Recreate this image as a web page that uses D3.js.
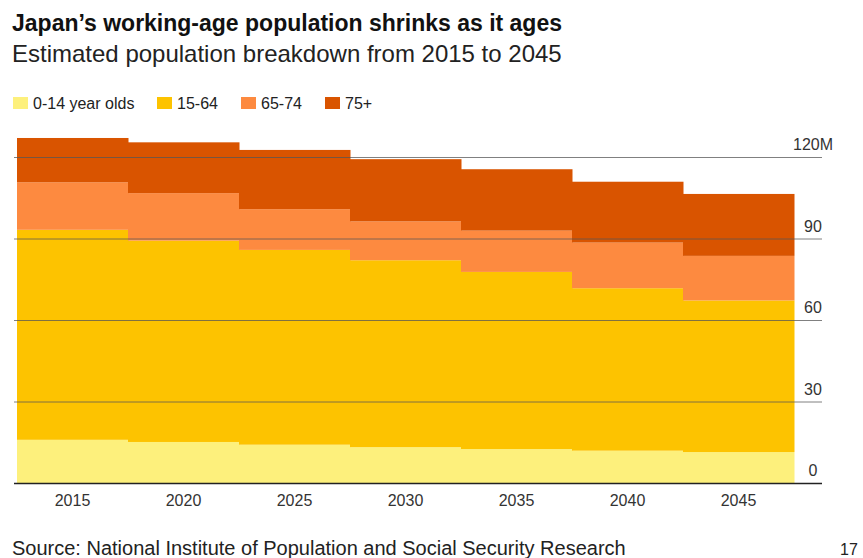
<!DOCTYPE html>
<html>
<head>
<meta charset="utf-8">
<script src="https://cdn.jsdelivr.net/npm/d3@7"></script>
<style>
  body { margin: 0; background: #fff; font-family: "Liberation Sans", Arial, sans-serif; }
  .chart-title { font-size: 23px; font-weight: bold; fill: #111; }
  .chart-sub { font-size: 24px; fill: #222; }
  .legend-text { font-size: 16px; fill: #222; }
  .tick-label { font-size: 16px; fill: #333; }
  .source { font-size: 20px; fill: #222; }
</style>
</head>
<body>
<div id="chart"></div>
<script>
const years = [2015, 2020, 2025, 2030, 2035, 2040, 2045];
const groups = ["0-14 year olds", "15-64", "65-74", "75+"];
// millions of people
const age0to14 = [15.9, 15.1, 14.1, 13.2, 12.5, 11.9, 11.4];
const age15to64 = [77.3, 74.1, 71.7, 68.8, 65.2, 59.8, 55.8];
const age65to74 = [17.5, 17.5, 15.0, 14.3, 15.2, 16.8, 16.4];
const age75plus = [16.3, 18.7, 21.8, 22.9, 22.6, 22.4, 22.8];
const yTicks = [0, 30, 60, 90, 120];
const colors = ["#fdf07c", "#fdc300", "#fd8a40", "#d95400"];

const W = 863, H = 558;
const svg = d3.select("#chart").append("svg")
    .attr("width", W)
    .attr("height", H);

const rows = years.map((yr, i) => ({
    year: yr,
    "0-14 year olds": age0to14[i],
    "15-64": age15to64[i],
    "65-74": age65to74[i],
    "75+": age75plus[i]
}));

const stacked = d3.stack().keys(groups)(rows);

const x = d3.scaleBand()
    .domain(years)
    .range([17, 794])
    .padding(0);

const y = d3.scaleLinear()
    .domain([0, 120])
    .range([483, 157]);

const color = d3.scaleOrdinal().domain(groups).range(colors);

// stepped stacked areas, one block per period
svg.append("g")
    .selectAll("g")
    .data(stacked)
    .join("g")
    .attr("fill", d => color(d.key))
    .selectAll("rect")
    .data(d => d)
    .join("rect")
    .attr("x", d => x(d.data.year))
    .attr("width", x.bandwidth() + 0.5)
    .attr("y", d => y(d[1]))
    .attr("height", d => y(d[0]) - y(d[1]));

// gridlines drawn over the areas
const yAxis = svg.append("g")
    .attr("transform", "translate(14,0)")
    .call(d3.axisRight(y).tickValues(yTicks).tickSize(808).tickFormat(d => d === 120 ? "120M" : d));
yAxis.select(".domain").remove();
yAxis.selectAll(".tick line")
    .attr("stroke", d => d === 0 ? "#222" : "#555")
    .attr("stroke-opacity", d => d === 0 ? 1 : 0.75)
    .attr("stroke-width", d => d === 0 ? 1.6 : 1);
yAxis.selectAll(".tick text")
    .attr("class", "tick-label")
    .attr("x", 799)
    .attr("dy", "-0.45em")
    .attr("text-anchor", "middle")
    .style("font-family", "inherit");

const xAxis = svg.append("g")
    .attr("transform", "translate(0,483)")
    .call(d3.axisBottom(x).tickSize(0).tickPadding(12));
xAxis.select(".domain").remove();
xAxis.selectAll(".tick text")
    .attr("class", "tick-label")
    .style("font-family", "inherit");

// titles
svg.append("text")
    .attr("class", "chart-title")
    .attr("x", 12)
    .attr("y", 31)
    .text("Japan\u2019s working-age population shrinks as it ages");

svg.append("text")
    .attr("class", "chart-sub")
    .attr("x", 12)
    .attr("y", 62)
    .text("Estimated population breakdown from 2015 to 2045");

// legend
const legendX = [13, 157, 241, 325];
const legend = svg.append("g")
    .selectAll("g")
    .data(groups)
    .join("g")
    .attr("transform", (d, i) => `translate(${legendX[i]}, 97)`);
legend.append("rect")
    .attr("width", 15)
    .attr("height", 12)
    .attr("fill", d => color(d));
legend.append("text")
    .attr("class", "legend-text")
    .attr("x", 20)
    .attr("y", 12)
    .text(d => d);

svg.append("text")
    .attr("class", "source")
    .attr("x", 12)
    .attr("y", 555)
    .text("Source: National Institute of Population and Social Security Research");

svg.append("text")
    .attr("class", "legend-text")
    .attr("x", 840)
    .attr("y", 555)
    .text("17");
</script>
</body>
</html>
